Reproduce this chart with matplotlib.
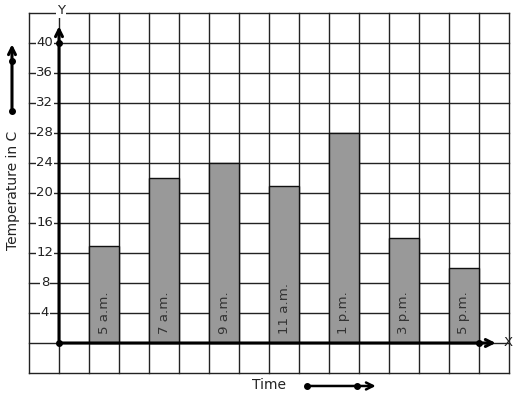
import matplotlib
matplotlib.use("Agg")
import matplotlib.pyplot as plt

times = ["5 a.m.", "7 a.m.", "9 a.m.", "11 a.m.", "1 p.m.", "3 p.m.", "5 p.m."]
temps = [13, 22, 24, 21, 28, 14, 10]
yticks = [4, 8, 12, 16, 20, 24, 28, 32, 36, 40]

fig = plt.figure(figsize=(5.17, 3.99), dpi=100)
ax = fig.add_axes([0, 0, 1, 1])
ax.set_xlim(-59 / 30, (517 - 59) / 30)
ax.set_ylim((343 - 399) / 7.5, 343 / 7.5)
ax.axis("off")

# grid
for xv in range(-1, 16):
    ax.plot([xv, xv], [-4, 44], color="#222222", lw=1.0, zorder=1)
for yv in range(-4, 45, 4):
    ax.plot([-1, 15], [yv, yv], color="#222222", lw=1.0, zorder=1)

# bars
xs = [1.5 + 2 * i for i in range(len(times))]
ax.bar(xs, temps, width=1.0, color="#999999", edgecolor="#111111", lw=1.0, zorder=2)
for x, t in zip(xs, times):
    ax.text(x, 1.2, t, rotation=90, ha="center", va="bottom", fontsize=9.6,
            color="#333333", zorder=3)

# tick labels
for yv in yticks:
    ax.text(-0.47, yv, str(yv), ha="center", va="center", fontsize=9.5, color="#222222",
            bbox=dict(facecolor="white", edgecolor="none", pad=0.5), zorder=4)

# axes
ax.annotate("", xy=(0, 42.6), xytext=(0, 0),
            arrowprops=dict(arrowstyle="->,head_length=0.5,head_width=0.25", lw=2.2, color="black"), zorder=5)
ax.annotate("", xy=(14.65, 0), xytext=(0, 0),
            arrowprops=dict(arrowstyle="->,head_length=0.5,head_width=0.25", lw=2.2, color="black"), zorder=5)
ax.plot([0, 0, 14], [0, 40, 0], "o", color="black", ms=4, zorder=6)
ax.text(0.07, 44.3, "Y", ha="center", va="center", fontsize=9.5, color="#222222",
        bbox=dict(facecolor="white", edgecolor="none", pad=0.5), zorder=4)
ax.text(14.97, 0.1, "X", ha="center", va="center", fontsize=9.5, color="#222222", zorder=4)

# y label and side arrow
ax.text(-1.53, 20.4, "Temperature in C", rotation=90, ha="center", va="center",
        fontsize=10, color="#222222")
ax.annotate("", xy=(-1.567, 40.2), xytext=(-1.567, 30.9),
            arrowprops=dict(arrowstyle="->,head_length=0.5,head_width=0.25", lw=2.2, color="black"))
ax.plot([-1.567, -1.567], [30.9, 37.6], "o", color="black", ms=4)

# x label and arrow
ax.text(7.0, -5.6, "Time", ha="center", va="center", fontsize=10, color="#222222")
ax.annotate("", xy=(10.65, -5.73), xytext=(8.27, -5.73),
            arrowprops=dict(arrowstyle="->,head_length=0.5,head_width=0.25", lw=1.8, color="black"))
ax.plot([8.27, 9.93], [-5.73, -5.73], "o", color="black", ms=4)

fig.savefig("out.png", dpi=100)
